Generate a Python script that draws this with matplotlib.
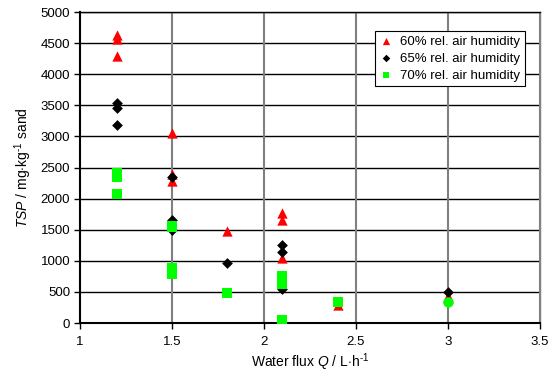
import matplotlib
matplotlib.use("Agg")
import matplotlib.pyplot as plt

plt.rcParams['font.family'] = ['Liberation Sans', 'DejaVu Sans']
plt.rcParams['mathtext.fontset'] = 'custom'
plt.rcParams['mathtext.rm'] = 'Liberation Sans'
plt.rcParams['mathtext.it'] = 'Liberation Sans:italic'

# Data
x60 = [1.2, 1.2, 1.2, 1.5, 1.5, 1.5, 1.8, 2.1, 2.1, 2.1, 2.4, 3.0, 3.0]
y60 = [4630, 4560, 4290, 3060, 2400, 2280, 1480, 1770, 1650, 1050, 290, 440, 400]
x65 = [1.2, 1.2, 1.2, 1.5, 1.5, 1.5, 1.8, 2.1, 2.1, 2.1, 3.0]
y65 = [3540, 3460, 3180, 2340, 1650, 1500, 970, 1260, 1140, 540, 500]
x70 = [1.2, 1.2, 1.2, 1.5, 1.5, 1.5, 1.5, 1.8, 2.1, 2.1, 2.1, 2.1, 2.4]
y70 = [2420, 2340, 2070, 1560, 1540, 880, 790, 490, 760, 700, 630, 50, 330]
x70c = [3.0]
y70c = [330]

labels = ['60% rel. air humidity', '65% rel. air humidity', '70% rel. air humidity']
xticks = [1, 1.5, 2, 2.5, 3, 3.5]
xtick_labels = ['1', '1.5', '2', '2.5', '3', '3.5']
yticks = list(range(0, 5001, 500))

fig = plt.figure(figsize=(5.55, 3.78), dpi=100)
ax = fig.add_axes([0.144, 0.1455, 0.829, 0.8225])

ax.scatter(x60, y60, marker='^', s=55, color='#ff0000', linewidths=0, label=labels[0], zorder=3)
ax.scatter(x65, y65, marker='D', s=30, color='#000000', linewidths=0, label=labels[1], zorder=3)
ax.scatter(x70, y70, marker='s', s=45, color='#00ff00', linewidths=0, label=labels[2], zorder=3)
ax.scatter(x70c, y70c, marker='o', s=55, color='#00ff00', linewidths=0, zorder=4)

ax.set_xlim(1, 3.5)
ax.set_ylim(0, 5000)
ax.set_xticks(xticks)
ax.set_xticklabels(xtick_labels)
ax.set_yticks(yticks)

for y in yticks[1:]:
    ax.axhline(y, color='#000000', lw=1.0, zorder=1)
for x in xticks[1:]:
    ax.axvline(x, color='#808080', lw=1.5, zorder=1)

for s in ax.spines.values():
    s.set_color('black')
    s.set_linewidth(1.0)
ax.spines['left'].set_linewidth(1.5)
ax.spines['bottom'].set_linewidth(1.5)
ax.spines['right'].set_color('#808080')

ax.tick_params(axis='both', direction='out', length=4, width=1, labelsize=9.5, colors='black', pad=3)
ax.tick_params(axis='x', pad=5)

ax.set_xlabel('Water flux $\\mathit{Q}$ / L$\\cdot$h$^{\\text{-1}}$', fontsize=10, labelpad=3)
ax.set_ylabel('$\\mathit{TSP}$ / mg$\\cdot$kg$^{\\text{-1}}$ sand', fontsize=10, labelpad=5)

leg = ax.legend(loc='upper right', bbox_to_anchor=(525 / 555, 347 / 378),
                bbox_transform=fig.transFigure, fontsize=9.5, frameon=True,
                fancybox=False, edgecolor='black', framealpha=1, borderpad=0.35,
                handletextpad=0.6, labelspacing=0.35, handlelength=1.0, markerscale=0.7,
                borderaxespad=0)
leg.get_frame().set_linewidth(0.8)

fig.savefig('out.png', dpi=100)
